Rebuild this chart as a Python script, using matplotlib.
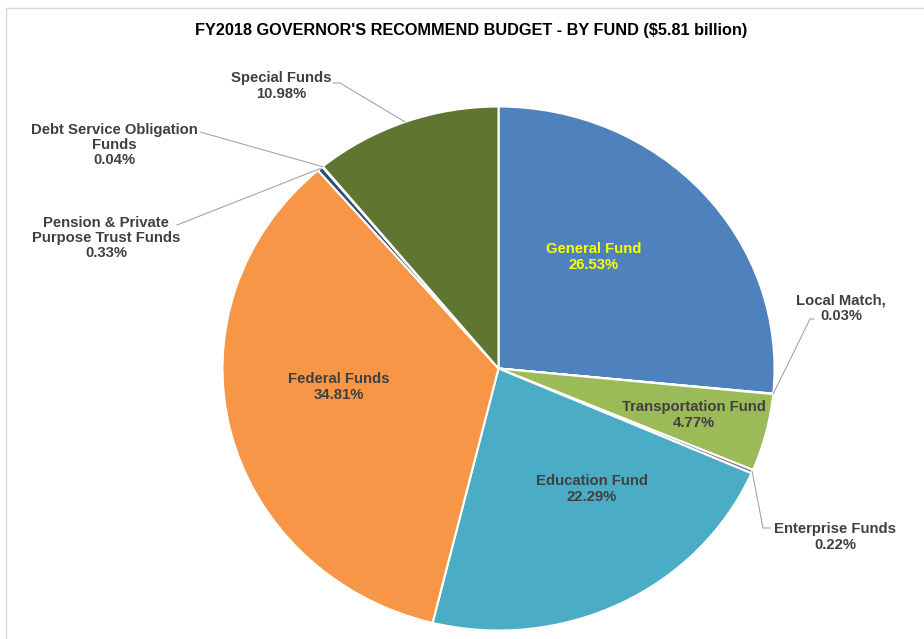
import matplotlib.pyplot as plt
import numpy as np

# data, clockwise from 12 o'clock
funds = ["General Fund", "Local Match,", "Transportation Fund", "Enterprise Funds",
         "Education Fund", "Federal Funds", "Pension & Private\nPurpose Trust Funds",
         "Debt Service Obligation\nFunds", "Special Funds"]
shares = [26.53, 0.03, 4.77, 0.22, 22.29, 34.81, 0.33, 0.04, 10.98]
colors = ["#4F81BD", "#C0504D", "#9BBB59", "#8064A2", "#4BACC6",
          "#F79646", "#2C4D75", "#772C2A", "#5F7530"]

# layout (pixels, from top-left)
W, H = 924, 639
cx, cy, rx, ry = 498.5, 368.5, 276.0, 262.0
label_pos = [(594, 257), (841, 308), (694, 415), (835, 537), (592, 489),
             (339, 387), (106, 238), (114, 145), (281, 86)]
label_col = ["#FFFF00"] + ["#404040"] * 8
# leader bend points for the outside labels (index -> points)
leaders = {1: [(810, 319), (814, 319)],
           3: [(763, 528), (770, 528)],
           6: [(177, 225)],
           7: [(200, 132)],
           8: [(340, 83), (333, 83)]}

def px(x, y):
    return (x - cx) / rx, (cy - y) / ry

fig = plt.figure(figsize=(W / 100, H / 100), dpi=100)
ax = fig.add_axes([0, 0, 1, 1])
ax.pie(shares, colors=colors, startangle=90, counterclock=False,
       wedgeprops=dict(edgecolor="white", linewidth=1.5))
ax.set_aspect("auto")
ax.set_xlim(-cx / rx, (W - cx) / rx)
ax.set_ylim((cy - H) / ry, cy / ry)
ax.axis("off")

# chart border
fig.add_artist(plt.Line2D([6 / W, 6 / W], [0, 1 - 7.5 / H], color="#D9D9D9", lw=1))
fig.add_artist(plt.Line2D([6 / W, 1], [1 - 7.5 / H, 1 - 7.5 / H], color="#D9D9D9", lw=1))

cum = np.cumsum([0] + shares[:-1])
for i, name in enumerate(funds):
    mid = cum[i] + shares[i] / 2
    ang = np.deg2rad(90 - mid * 3.6)
    if i in leaders:
        pts = [(np.cos(ang), np.sin(ang))] + [px(*p) for p in leaders[i]]
        xs, ys = zip(*pts)
        ax.plot(xs, ys, color="#A6A6A6", lw=0.8)
    tx, ty = px(*label_pos[i])
    ax.text(tx, ty, name + "\n%.2f%%" % shares[i], ha="center", va="center",
            fontsize=10.7, fontweight="bold", family="Liberation Sans",
            color=label_col[i], linespacing=1.12)

fig.text(471 / W, 1 - 30 / H, "FY2018 GOVERNOR'S RECOMMEND BUDGET - BY FUND ($5.81 billion)",
         ha="center", va="center", fontsize=11.7, fontweight="bold",
         family="Liberation Sans", color="black")

fig.savefig("out.png", dpi=100)
